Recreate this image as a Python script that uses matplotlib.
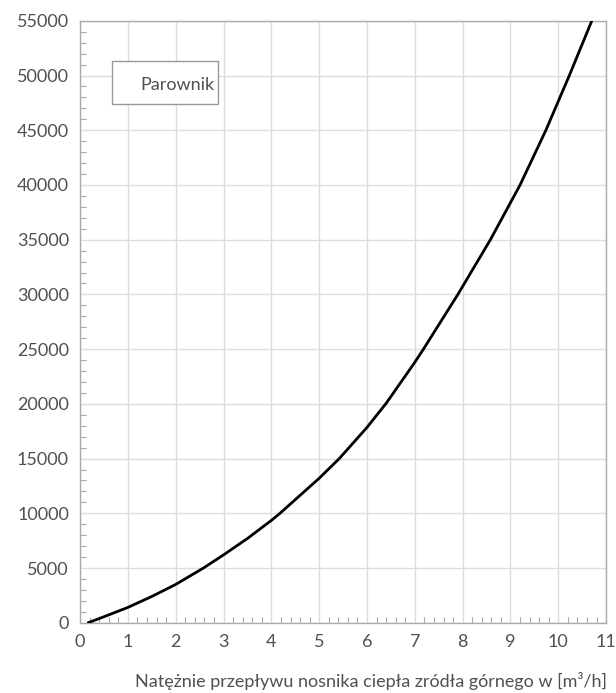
import numpy as np
import matplotlib.pyplot as plt
from matplotlib.patches import Rectangle
from matplotlib.ticker import MultipleLocator

# values
flow = [0.17, 0.5, 1.0, 1.5, 2.0, 2.58, 3.0, 3.5, 4.0, 4.18, 4.5, 5.0, 5.42,
        6.0, 6.40, 7.0, 7.18, 7.90, 8.58, 9.20, 9.74, 10.23, 10.70]
power = [0, 550, 1400, 2400, 3500, 5000, 6200, 7700, 9350, 10000, 11250, 13200, 15000,
         17850, 20050, 23800, 25000, 30000, 35000, 40000, 45000, 50000, 55000]

x_ticks = list(range(0, 12))
y_ticks = list(range(0, 55001, 5000))
series_name = "Parownik"
x_label = "Natężnie przepływu nosnika ciepła zródła górnego w [m³/h]"

plt.rcParams['font.family'] = ['Lato', 'DejaVu Sans']
text_color = "#505050"

fig = plt.figure(figsize=(6.16, 6.93), dpi=100)
ax = fig.add_axes([0.130, 0.1014, 0.854, 0.8686])

ax.plot(flow, power, color="black", lw=2.0, solid_capstyle="round",
        solid_joinstyle="round", zorder=3)

ax.set_xlim(0, 11)
ax.set_ylim(0, 55000)
ax.set_xticks(x_ticks)
ax.set_yticks(y_ticks)
ax.xaxis.set_minor_locator(MultipleLocator(0.2))
ax.yaxis.set_minor_locator(MultipleLocator(1000))

ax.grid(which="major", color="#dddddd", lw=1.0)
ax.set_axisbelow(True)
ax.tick_params(which="both", direction="in", color="#aaaaaa", top=False, right=False)
ax.tick_params(which="major", length=0, labelsize=13, labelcolor=text_color, pad=8)
ax.tick_params(which="minor", length=4, width=0.8)

for s in ax.spines.values():
    s.set_color("#aaaaaa")
    s.set_linewidth(1.0)

ax.add_patch(Rectangle((0.0614, 0.8616), 0.2016, 0.072, transform=ax.transAxes,
                       facecolor="white", edgecolor="#999999", lw=1.0, zorder=4))
ax.text(0.186, 0.893, series_name, transform=ax.transAxes, ha="center", va="center",
        fontsize=13, color=text_color, zorder=5)

fig.text(0.985, 0.018, x_label, ha="right", va="center", fontsize=13,
         color=text_color)

fig.savefig("out.png", dpi=100)
